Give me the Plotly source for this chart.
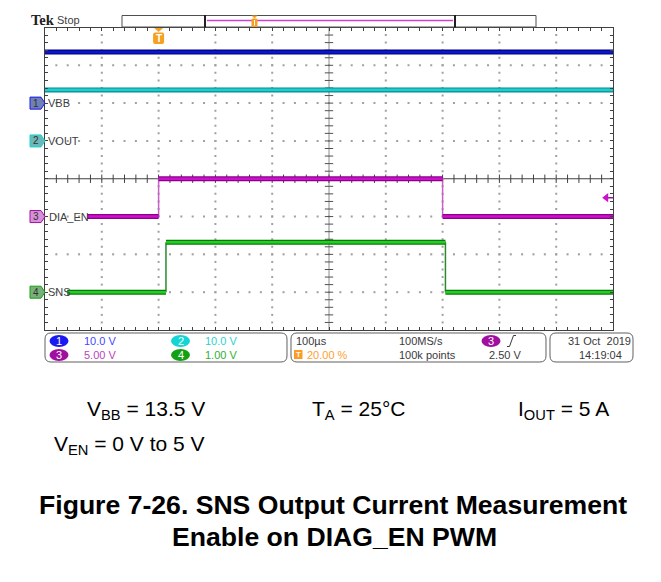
import plotly.graph_objects as go

W, H = 661, 582

# ---- acquisition settings ----
time_per_div_us = 100
trigger_pos_pct = 20
n_hdiv, n_vdiv = 10, 8
t_start = -trigger_pos_pct / 100 * n_hdiv * time_per_div_us
t_end = t_start + n_hdiv * time_per_div_us
t_center = (t_start + t_end) / 2

# ---- channels ----
channel_nums = [1, 2, 3, 4]
channel_names = ["VBB", "VOUT", "DIA_EN", "SNS"]
volts_per_div = [10.0, 10.0, 5.0, 1.0]
ground_div = [2, 1, -1, -3]
scale_labels = ["10.0 V", "10.0 V", "5.00 V", "1.00 V"]
trace_dark = ["#00007e", "#008c8c", "#8a008a", "#067a06"]
trace_main = ["#0a16c8", "#22cccc", "#cc10cc", "#28cc28"]
edge_color = ["#3040d0", "#40c0c0", "#c860c8", "#2a8a2a"]
badge_color = ["#1a1af0", "#14d4d4", "#a010a0", "#14a014"]
scale_text_color = ["#4646ff", "#30d0d0", "#c040c0", "#30b030"]
marker_fill = ["#7080b4", "#6cb8b8", "#d890d8", "#78b078"]

# ---- waveforms: breakpoint times (us) and the level (V) held from each one ----
vbb_t = [-200, 800]
vbb_v = [13.5, 13.5]
vout_t = [-200, 800]
vout_v = [13.5, 13.5]
dia_t = [-126, 0, 500, 800]
dia_v = [0.0, 5.0, 0.0, 0.0]
sns_t = [-161, 13, 505, 800]
sns_v = [0.0, 1.32, 0.0, 0.0]
waveforms = [(vbb_t, vbb_v), (vout_t, vout_v), (dia_t, dia_v), (sns_t, sns_v)]

# ---- trigger ----
trigger_channel = 3
trigger_level_v = 2.50

# ---- status text ----
timebase_text = "100µs"
trigger_pct_text = "20.00 %"
sample_rate_text = "100MS/s"
record_text = "100k points"
trig_level_text = "2.50 V"
date_text = "31 Oct\u00a0\u00a02019"
time_text = "14:19:04"

# ---- geometry of the graticule (pixels) ----
GX0, GX1, GY0, GY1 = 45, 613, 27.5, 330


def px(x):
    return x / W


def py(y):
    return 1 - y / H


def t_to_px(t):
    return GX0 + (t - t_start) / (t_end - t_start) * (GX1 - GX0)


def div_to_py(d):
    return GY0 + (n_vdiv / 2 - d) / n_vdiv * (GY1 - GY0)


def path(points, close=True):
    s = "M " + " L ".join(f"{px(x):.5f},{py(y):.5f}" for x, y in points)
    return s + (" Z" if close else "")


def rrect(x0, y0, x1, y1, r):
    P = lambda x, y: f"{px(x):.5f},{py(y):.5f}"
    return (f"M {P(x0 + r, y0)} L {P(x1 - r, y0)} Q {P(x1, y0)} {P(x1, y0 + r)} "
            f"L {P(x1, y1 - r)} Q {P(x1, y1)} {P(x1 - r, y1)} "
            f"L {P(x0 + r, y1)} Q {P(x0, y1)} {P(x0, y1 - r)} "
            f"L {P(x0, y0 + r)} Q {P(x0, y0)} {P(x0 + r, y0)} Z")


fig = go.Figure()

# dotted graticule
gx, gy = [], []
minor_y = [-n_vdiv / 2 + 0.2 * i for i in range(1, 5 * n_vdiv)]
minor_t = [t_start + 20 * i for i in range(1, 5 * n_hdiv)]
for k in range(1, n_hdiv):
    t = t_start + k * time_per_div_us
    if abs(t - t_center) < 1e-9:
        continue
    gx += [t] * len(minor_y)
    gy += minor_y
for j in range(-n_vdiv // 2 + 1, n_vdiv // 2):
    if j == 0:
        continue
    gx += minor_t
    gy += [j] * len(minor_t)
fig.add_trace(go.Scatter(x=gx, y=gy, mode="markers", hoverinfo="skip",
                         marker=dict(symbol="square", size=2, color="#a0a0a0", line=dict(width=0))))

# center crosshair with minor ticks
fig.add_shape(type="line", xref="x", yref="y", x0=t_center, x1=t_center, y0=-4, y1=4,
              line=dict(color="#8c8c8c", width=1), layer="below")
fig.add_shape(type="line", xref="x", yref="y", x0=t_start, x1=t_end, y0=0, y1=0,
              line=dict(color="#404040", width=1), layer="below")
fig.add_trace(go.Scatter(x=minor_t, y=[0] * len(minor_t), mode="markers", hoverinfo="skip",
                         marker=dict(symbol="line-ns", size=6, line=dict(color="#404040", width=1))))
fig.add_trace(go.Scatter(x=[t_center] * len(minor_y), y=minor_y, mode="markers", hoverinfo="skip",
                         marker=dict(symbol="line-ew", size=6, line=dict(color="#505050", width=1))))

# waveforms
for i, (tt, vv) in enumerate(waveforms):
    hx, hy, ex, ey = [], [], [], []
    for k in range(len(tt) - 1):
        lvl = ground_div[i] + vv[k] / volts_per_div[i]
        hx += [tt[k], tt[k + 1], None]
        hy += [lvl, lvl, None]
        if k > 0 and vv[k] != vv[k - 1]:
            prev = ground_div[i] + vv[k - 1] / volts_per_div[i]
            ex += [tt[k], tt[k], None]
            ey += [prev, lvl, None]
    if ex:
        fig.add_trace(go.Scatter(x=ex, y=ey, mode="lines", hoverinfo="skip",
                                 line=dict(color=edge_color[i], width=1.5)))
    fig.add_trace(go.Scatter(x=hx, y=hy, mode="lines", hoverinfo="skip",
                             line=dict(color=trace_dark[i], width=5)))
    fig.add_trace(go.Scatter(x=hx, y=hy, mode="lines", hoverinfo="skip",
                             line=dict(color=trace_main[i], width=2.6)))

# trigger level indicator on the right edge
ti = trigger_channel - 1
trig_div = ground_div[ti] + trigger_level_v / volts_per_div[ti]
arrow_t = t_end - 12
fig.add_trace(go.Scatter(x=[arrow_t, t_end], y=[trig_div, trig_div], mode="lines", hoverinfo="skip",
                         cliponaxis=False, line=dict(color=badge_color[ti], width=1.5)))
fig.add_trace(go.Scatter(x=[arrow_t], y=[trig_div], mode="markers", hoverinfo="skip", cliponaxis=False,
                         marker=dict(symbol="triangle-left", size=8, color=trace_main[ti])))

shapes = []
ann = []

# outer page frame
shapes.append(dict(type="line", xref="paper", yref="paper", x0=0, x1=1, y0=py(3), y1=py(3),
                   line=dict(color="#8a8a8a", width=2)))
shapes.append(dict(type="line", xref="paper", yref="paper", x0=px(1), x1=px(1), y0=py(3), y1=0,
                   line=dict(color="#8a8a8a", width=2)))

# channel ground markers and labels
for i in range(4):
    yc = div_to_py(ground_div[i])
    shapes.append(dict(type="path", xref="paper", yref="paper",
                       path=path([(30, yc - 6), (41, yc - 6), (45, yc), (41, yc + 6), (30, yc + 6)]),
                       fillcolor=marker_fill[i], line=dict(color=badge_color[i], width=1)))
    ann.append(dict(x=px(35.5), y=ground_div[i], xref="paper", yref="y", text=str(channel_nums[i]),
                    showarrow=False, xanchor="center", yanchor="middle",
                    font=dict(family="Liberation Sans", size=10, color="#303030")))
    ann.append(dict(x=px(46.5), y=ground_div[i], xref="paper", yref="y", text=channel_names[i],
                    showarrow=False, xanchor="left", yanchor="middle",
                    font=dict(family="Liberation Sans", size=11, color="#404040")))

# trigger position marker under the top edge
tx = t_to_px(0)
tri_orange = "#f5a021"
shapes.append(dict(type="path", xref="paper", yref="paper",
                   path=path([(tx - 4.5, 28), (tx + 4.5, 28), (tx, 32)]),
                   fillcolor=tri_orange, line=dict(width=0)))
shapes.append(dict(type="path", xref="paper", yref="paper", path=rrect(tx - 5.5, 32.5, tx + 5.5, 44, 2),
                   fillcolor=tri_orange, line=dict(width=0)))
ann.append(dict(x=px(tx), y=py(38.5), xref="paper", yref="paper", text="<b>T</b>", showarrow=False,
                xanchor="center", yanchor="middle",
                font=dict(family="Liberation Sans", size=10, color="white")))

# top bar: brand, state and record view
ann.append(dict(x=px(29), y=py(20), xref="paper", yref="paper", text="<b>Tek</b>", showarrow=False,
                xanchor="left", yanchor="middle",
                font=dict(family="Liberation Serif", size=14.5, color="#202020")))
ann.append(dict(x=px(55), y=py(20.5), xref="paper", yref="paper", text="Stop", showarrow=False,
                xanchor="left", yanchor="middle",
                font=dict(family="Liberation Sans", size=11, color="#404040")))
shapes.append(dict(type="rect", xref="paper", yref="paper", x0=px(122), x1=px(536), y0=py(15.5), y1=py(27),
                   line=dict(color="#505050", width=1), fillcolor="white"))
shapes.append(dict(type="line", xref="paper", yref="paper", x0=px(207), x1=px(453), y0=py(20.5), y1=py(20.5),
                   line=dict(color="#d040d0", width=1.5)))
for bx in (205, 455):
    shapes.append(dict(type="line", xref="paper", yref="paper", x0=px(bx), x1=px(bx), y0=py(15), y1=py(27.5),
                       line=dict(color="#202020", width=2)))
shapes.append(dict(type="path", xref="paper", yref="paper",
                   path=path([(251.5, 15.5), (257.5, 15.5), (254.5, 18.5)]),
                   fillcolor=tri_orange, line=dict(width=0)))
shapes.append(dict(type="path", xref="paper", yref="paper", path=rrect(251.5, 18.5, 257.5, 27, 1.5),
                   fillcolor=tri_orange, line=dict(width=0)))
shapes.append(dict(type="line", xref="paper", yref="paper", x0=px(254.5), x1=px(254.5), y0=py(20), y1=py(25.5),
                   line=dict(color="white", width=1)))

# status bar boxes
for x0, x1 in ((45, 287), (291, 546), (550, 633)):
    shapes.append(dict(type="path", xref="paper", yref="paper", path=rrect(x0, 333, x1, 362, 6),
                       line=dict(color="#606060", width=1)))

sfont = "Liberation Sans"
badge_pos = [(59, 341), (180.5, 341), (59, 355), (180.5, 355)]
value_pos = [(82, 341), (203, 341), (82, 355), (203, 355)]
for i in range(4):
    bx, by = badge_pos[i]
    shapes.append(dict(type="circle", xref="paper", yref="paper", x0=px(bx - 9.5), x1=px(bx + 9.5),
                       y0=py(by - 6), y1=py(by + 6), fillcolor=badge_color[i], line=dict(width=0)))
    ann.append(dict(x=px(bx), y=py(by), xref="paper", yref="paper", text=str(channel_nums[i]),
                    showarrow=False, xanchor="center", yanchor="middle",
                    font=dict(family=sfont, size=11, color="white")))
    vx, vy = value_pos[i]
    ann.append(dict(x=px(vx), y=py(vy), xref="paper", yref="paper", text=scale_labels[i], showarrow=False,
                    xanchor="left", yanchor="middle", font=dict(family=sfont, size=11, color=scale_text_color[i])))

# horizontal / acquisition / trigger block
dark = "#3a3a3a"
for text, x, y, col in ((timebase_text, 294, 341, dark), (trigger_pct_text, 305, 355, "#ffa032"),
                        (sample_rate_text, 397, 341, dark), (record_text, 397, 355, dark),
                        (trig_level_text, 487, 355, dark)):
    ann.append(dict(x=px(x), y=py(y), xref="paper", yref="paper", text=text, showarrow=False,
                    xanchor="left", yanchor="middle", font=dict(family=sfont, size=11, color=col)))
shapes.append(dict(type="rect", xref="paper", yref="paper", x0=px(294), x1=px(302.5), y0=py(350), y1=py(359),
                   fillcolor="#ff9a22", line=dict(width=0)))
ann.append(dict(x=px(298.3), y=py(354.5), xref="paper", yref="paper", text="<b>T</b>", showarrow=False,
                xanchor="center", yanchor="middle", font=dict(family=sfont, size=8, color="white")))
shapes.append(dict(type="circle", xref="paper", yref="paper", x0=px(481.5), x1=px(500.5), y0=py(335), y1=py(347),
                   fillcolor=badge_color[ti], line=dict(width=0)))
ann.append(dict(x=px(491), y=py(341), xref="paper", yref="paper", text=str(trigger_channel), showarrow=False,
                xanchor="center", yanchor="middle", font=dict(family=sfont, size=11, color="white")))
shapes.append(dict(type="path", xref="paper", yref="paper",
                   path=path([(507, 346.5), (509.5, 346.5), (513.5, 335.5), (516, 335.5)], close=False),
                   line=dict(color=dark, width=1)))

# date / time block
ann.append(dict(x=px(599), y=py(341), xref="paper", yref="paper", text=date_text, showarrow=False,
                xanchor="center", yanchor="middle", font=dict(family=sfont, size=11, color=dark)))
ann.append(dict(x=px(600), y=py(355), xref="paper", yref="paper", text=time_text, showarrow=False,
                xanchor="center", yanchor="middle", font=dict(family=sfont, size=11, color=dark)))

# conditions and caption
cf = dict(family="Liberation Sans", size=21, color="black")
for text, x, y in (("V<sub>BB</sub> = 13.5 V", 85, 410), ("T<sub>A</sub> = 25°C", 310, 410),
                   ("I<sub>OUT</sub> = 5 A", 516, 410), ("V<sub>EN</sub> = 0 V to 5 V", 52, 445)):
    ann.append(dict(x=px(x), y=py(y), xref="paper", yref="paper", text=text, showarrow=False,
                    xanchor="left", yanchor="middle", font=cf))
tf = dict(family="Liberation Sans", size=26.6, color="black")
ann.append(dict(x=px(333), y=py(505), xref="paper", yref="paper",
                text="<b>Figure 7-26. SNS Output Current Measurement</b>", showarrow=False,
                xanchor="center", yanchor="middle", font=tf))
ann.append(dict(x=px(335), y=py(537), xref="paper", yref="paper", text="<b>Enable on DIAG_EN PWM</b>",
                showarrow=False, xanchor="center", yanchor="middle", font=tf))

axis_common = dict(showgrid=False, zeroline=False, showline=True, linecolor="#404040", linewidth=1,
                   mirror="ticks", ticks="inside", ticklen=3, tickcolor="#404040", tickwidth=1,
                   showticklabels=False, fixedrange=True)
fig.update_layout(
    width=W, height=H, autosize=False,
    margin=dict(l=0, r=0, t=0, b=0, pad=0),
    paper_bgcolor="white", plot_bgcolor="white",
    showlegend=False,
    xaxis=dict(range=[t_start, t_end], domain=[px(GX0), px(GX1)], tick0=t_start, dtick=20, **axis_common),
    yaxis=dict(range=[-n_vdiv / 2, n_vdiv / 2], domain=[py(GY1), py(GY0)], tick0=0, dtick=0.2, **axis_common),
    shapes=shapes,
    annotations=ann,
)

fig.write_html("out.html")
